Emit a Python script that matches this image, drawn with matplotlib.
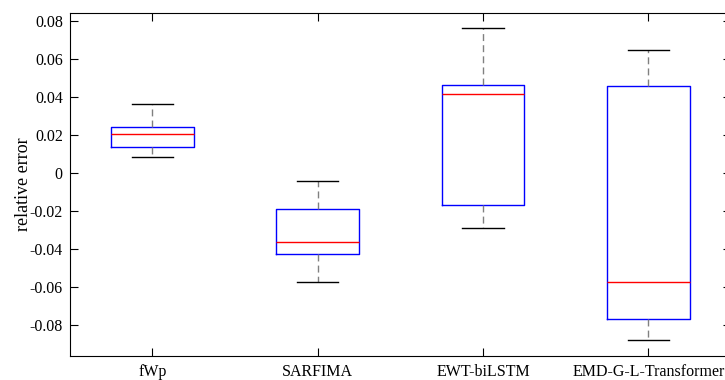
import matplotlib
matplotlib.use("Agg")
import matplotlib.pyplot as plt

plt.rcParams['font.family'] = ['Liberation Serif', 'DejaVu Serif']
plt.rcParams['lines.scale_dashes'] = False

categories = ["fWp", "SARFIMA", "EWT-biLSTM", "EMD-G-L-Transformer"]
whislo = [0.0086, -0.0572, -0.0289, -0.0881]
q1 = [0.0138, -0.0425, -0.0167, -0.0768]
med = [0.0205, -0.0365, 0.0416, -0.0576]
q3 = [0.0244, -0.0188, 0.0461, 0.0459]
whishi = [0.0365, -0.0042, 0.0763, 0.0645]
yticks = [-0.08, -0.06, -0.04, -0.02, 0, 0.02, 0.04, 0.06, 0.08]
ytick_labels = ["-0.08", "-0.06", "-0.04", "-0.02", "0", "0.02", "0.04", "0.06", "0.08"]

stats = []
for i in range(len(categories)):
    stats.append(dict(label=categories[i], whislo=whislo[i], q1=q1[i], med=med[i],
                      q3=q3[i], whishi=whishi[i], fliers=[]))

fig = plt.figure(figsize=(7.25, 3.8), dpi=100)
ax = fig.add_axes([69.7/725, (380-355.7)/380, (731-69.7)/725, (355.7-13)/380])

ax.bxp(stats, positions=[1, 2, 3, 4], widths=0.5, showfliers=False,
       boxprops=dict(color='#0000ff', linewidth=1.0),
       medianprops=dict(color='#ff0000', linewidth=1.0),
       whiskerprops=dict(color='#808080', linewidth=1.0, linestyle=(0, (5, 3))),
       capprops=dict(color='black', linewidth=1.0),
       capwidths=0.25)

ax.set_xlim(0.5, 4.5)
ax.set_ylim(-0.0962, 0.0842)
ax.set_yticks(yticks)
ax.set_yticklabels(ytick_labels)
ax.set_xticks([1, 2, 3, 4])
ax.set_xticklabels(categories)
ax.tick_params(direction='in', length=6, width=0.8, labelsize=11.5,
               top=True, right=True, colors='black')
ax.tick_params(axis='x', pad=6)
ax.tick_params(axis='y', pad=5)
for s in ax.spines.values():
    s.set_linewidth(0.8)
ax.set_ylabel("relative error", fontsize=13)
ax.yaxis.set_label_coords((32 - 69.7) / 661.3, 0.5)

fig.savefig("out.png", dpi=100)
